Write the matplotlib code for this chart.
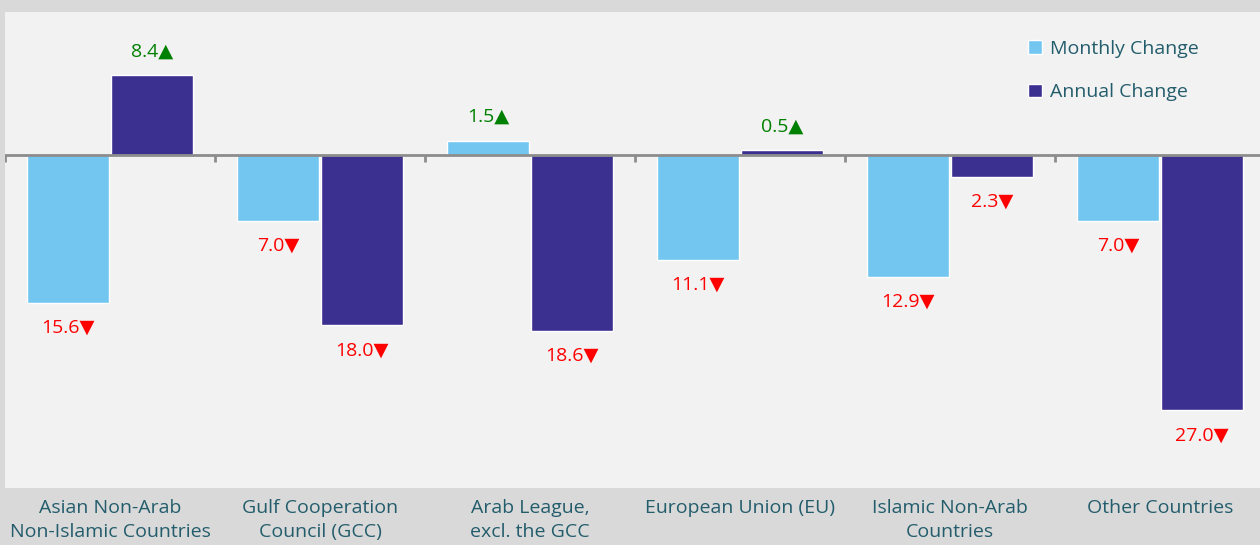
import numpy as np
import matplotlib
matplotlib.use("Agg")
import matplotlib.pyplot as plt
from matplotlib.patches import Patch

# data
categories = ["Asian Non-Arab\nNon-Islamic Countries", "Gulf Cooperation\nCouncil (GCC)",
              "Arab League,\nexcl. the GCC", "European Union (EU)",
              "Islamic Non-Arab\nCountries", "Other Countries"]
monthly = [-15.6, -7.0, 1.5, -11.1, -12.9, -7.0]
annual = [8.4, -18.0, -18.6, 0.5, -2.3, -27.0]

c_month = "#73c6f0"
c_year = "#3b2f8f"
teal = "#235d6c"

plt.rcParams['font.family'] = ['Open Sans', 'DejaVu Sans']

fig = plt.figure(figsize=(12.6, 5.45), dpi=100)
fig.patch.set_facecolor("#d9d9d9")
ax = fig.add_axes([5/1260, 57/545, 1255/1260, 476/545])
ax.set_facecolor("#f2f2f2")

x = np.arange(len(categories))
w = 0.395
ax.bar(x - 0.2, monthly, w, color=c_month, edgecolor="white", linewidth=1, zorder=2)
ax.bar(x + 0.2, annual, w, color=c_year, edgecolor="white", linewidth=1, zorder=2)

# value labels
def lab(xp, v):
    if v >= 0:
        ax.annotate(f"{abs(v):.1f}\u25b2", (xp, v), xytext=(0, 17), textcoords="offset points",
                    ha="center", va="center", color="#008000", fontsize=14)
    else:
        ax.annotate(f"{abs(v):.1f}\u25bc", (xp, v), xytext=(0, -18), textcoords="offset points",
                    ha="center", va="center", color="#ff0000", fontsize=14)

for i in range(len(categories)):
    lab(x[i] - 0.2, monthly[i])
    lab(x[i] + 0.2, annual[i])

# zero line and boundary ticks
ax.axhline(0, color="#8c8c8c", lw=2, zorder=3)
ax.vlines(np.arange(len(categories) + 1) - 0.5, -0.75, 0, color="#8c8c8c", lw=2, zorder=3)

ax.set_xlim(-0.5, len(categories) - 0.5 - 5/210)
ax.set_ylim(-35.2, 15.1)
ax.set_yticks([])
ax.set_xticks(x)
ax.set_xticklabels(categories, fontsize=14, color=teal, linespacing=1.45)
ax.tick_params(axis="x", length=0, pad=8)
for s in ax.spines.values():
    s.set_visible(False)

handles = [Patch(facecolor=c_month, edgecolor="white", label="Monthly Change"),
           Patch(facecolor=c_year, edgecolor="white", label="Annual Change")]
leg = ax.legend(handles=handles, loc="upper right", bbox_to_anchor=(0.965, 0.978), frameon=False,
                handlelength=0.7, handleheight=0.7, handletextpad=0.4, labelspacing=1.3,
                fontsize=14)
for t in leg.get_texts():
    t.set_color(teal)

fig.savefig("out.png", dpi=100, facecolor=fig.get_facecolor())
